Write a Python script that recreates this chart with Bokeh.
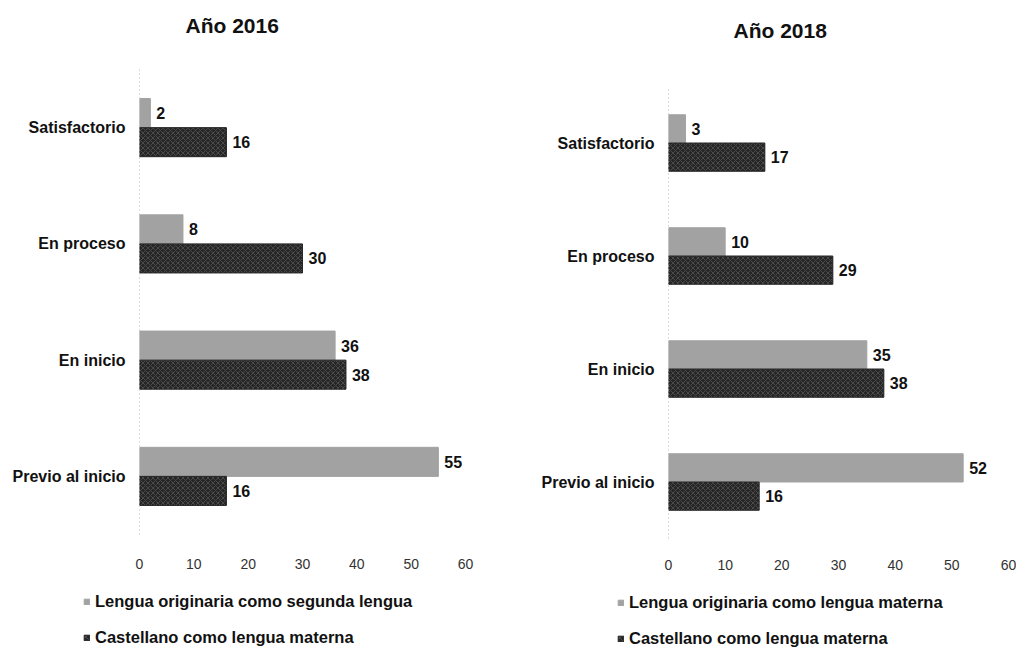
from bokeh.plotting import figure
from bokeh.models import ColumnDataSource, Legend, LegendItem, LabelSet, FactorRange, Range1d, Title
from bokeh.layouts import row, column
from bokeh.core.properties import value
from bokeh.embed import file_html
from bokeh.resources import INLINE
from bokeh.transform import dodge

categories = ["Previo al inicio", "En inicio", "En proceso", "Satisfactorio"]
titles = ["Año 2016", "Año 2018"]

orig_2016 = [55, 36, 8, 2]
cast_2016 = [16, 38, 30, 16]
orig_2018 = [52, 35, 10, 3]
cast_2018 = [16, 38, 29, 17]

legend_orig = ["Lengua originaria como segunda lengua", "Lengua originaria como lengua materna"]
legend_cast = "Castellano como lengua materna"

x_ticks = [0, 10, 20, 30, 40, 50, 60]

FONT = "Liberation Sans"
GRAY = "#a2a2a2"
DARK = "#262626"
DARK_STYLE = dict(fill_color=DARK, line_color=DARK, hatch_pattern="diagonal_cross",
                  hatch_color="#4a4a4a", hatch_scale=5, hatch_weight=1)


def make(title, orig, cast, fw, fh, bl, br, bt, title_off, title_gap, x_standoff):
    src = ColumnDataSource(dict(cat=categories, orig=orig, cast=cast,
                                orig_t=[str(v) for v in orig], cast_t=[str(v) for v in cast]))
    p = figure(y_range=FactorRange(*categories, range_padding=0.0), x_range=(0, 60),
               frame_width=fw, frame_height=fh, output_backend="svg", toolbar_location=None,
               min_border_left=bl, min_border_right=br, min_border_top=bt, min_border_bottom=0)
    p.frame_align = False
    p.hbar(y=dodge("cat", 0.125, range=p.y_range), right="orig", height=0.25, source=src,
           fill_color=GRAY, line_color=GRAY)
    p.hbar(y=dodge("cat", -0.125, range=p.y_range), right="cast", height=0.25, source=src,
           **DARK_STYLE)
    for col, txt, dy in (("orig", "orig_t", 0.125), ("cast", "cast_t", -0.125)):
        p.add_layout(LabelSet(x=col, y=dodge("cat", dy, range=p.y_range), text=txt, source=src,
                              x_offset=6, text_baseline="middle", text_font=value(FONT),
                              text_font_size=value("16px"), text_font_style=value("bold"),
                              text_color=value("#111111")))

    p.title.text = title
    p.title.align = "left"
    p.title.offset = title_off
    p.title.standoff = 10
    p.title.text_font = FONT
    p.title.text_font_size = "21px"
    p.title.text_font_style = "bold"
    p.title.text_color = "#111111"
    # blank spacer between the plot area and the title
    p.add_layout(Title(text=" ", text_font_size="2px", standoff=title_gap), "above")

    p.xgrid.grid_line_color = None
    p.ygrid.grid_line_color = None
    p.outline_line_color = None

    p.xaxis.ticker = x_ticks
    p.xaxis.axis_line_color = None
    p.xaxis.major_tick_line_color = None
    p.xaxis.minor_tick_line_color = None
    p.xaxis.major_tick_out = 0
    p.xaxis.major_label_standoff = x_standoff
    p.xaxis.major_label_text_font = FONT
    p.xaxis.major_label_text_font_size = "14px"
    p.xaxis.major_label_text_color = "#333333"

    p.yaxis.axis_line_color = "#bbbbbb"
    p.yaxis.axis_line_dash = "1 3"
    p.yaxis.major_tick_line_color = None
    p.yaxis.minor_tick_line_color = None
    p.yaxis.major_tick_out = 0
    p.yaxis.major_label_standoff = 14
    p.yaxis.major_label_text_font = FONT
    p.yaxis.major_label_text_font_size = "16px"
    p.yaxis.major_label_text_font_style = "bold"
    p.yaxis.major_label_text_color = "#111111"
    return p


def make_legend(leg_label, fw, fh, loc):
    q = figure(frame_width=fw, frame_height=fh, output_backend="svg", toolbar_location=None,
               x_range=Range1d(0, 1), y_range=Range1d(0, 1),
               min_border_left=0, min_border_right=0, min_border_top=0, min_border_bottom=0)
    q.frame_align = False
    q.axis.visible = False
    q.grid.visible = False
    q.outline_line_color = None
    nan = float("nan")
    empty = ColumnDataSource(dict(y=[nan], right=[nan]))
    r1 = q.hbar(y="y", right="right", height=0.25, source=empty, fill_color=GRAY, line_color=GRAY)
    r2 = q.hbar(y="y", right="right", height=0.25, source=empty, **DARK_STYLE)
    legend = Legend(items=[LegendItem(label=leg_label, renderers=[r1]),
                           LegendItem(label=legend_cast, renderers=[r2])],
                    location=loc, orientation="vertical",
                    glyph_width=7, glyph_height=7, label_height=14, spacing=17,
                    label_text_font=FONT, label_text_font_size="16.5px",
                    label_text_font_style="bold", label_text_color="#111111",
                    label_standoff=5, padding=0, margin=0,
                    background_fill_alpha=0, border_line_color=None)
    q.add_layout(legend, "center")
    return q


p1 = make(titles[0], orig_2016, cast_2016, 326, 465, 139, 40, 69, 46, 24, 24)
p2 = make(titles[1], orig_2018, cast_2018, 340, 452, 163, 8, 86, 65, 36, 21)
l1 = make_legend(legend_orig[0], 505, 76, (83, 0))
l2 = make_legend(legend_orig[1], 511, 76, (112, 0))

layout = row(column(p1, l1, spacing=0), column(p2, l2, spacing=0), spacing=0)
open("out.html", "w").write(file_html(layout, INLINE))
